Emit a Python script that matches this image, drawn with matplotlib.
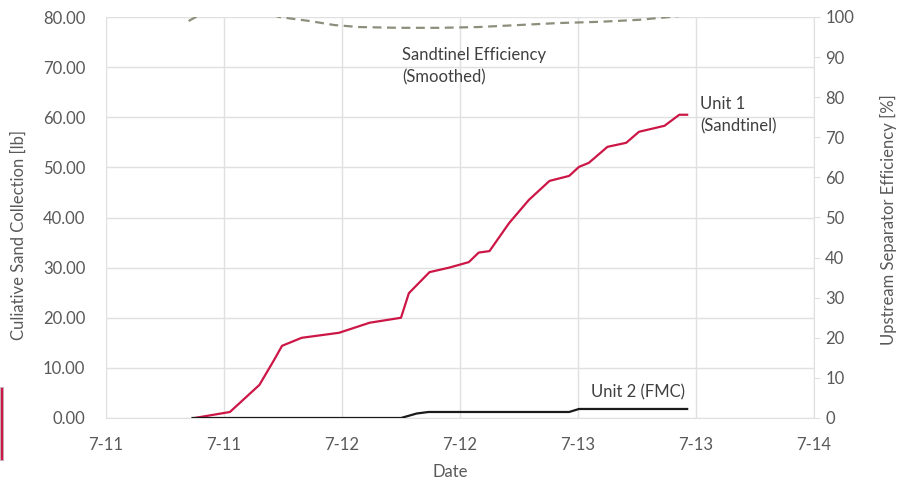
import matplotlib
matplotlib.use("Agg")
import matplotlib.pyplot as plt
from matplotlib.patches import Rectangle

plt.rcParams["font.family"] = ["Lato", "DejaVu Sans"]

# hours since 7-11 00:00
unit1_hours = [9.0, 12.6, 15.6, 17.1, 17.9, 19.9, 23.7, 26.8, 30.0, 30.8, 32.9, 34.9,
               36.9, 37.9, 39.0, 41.0, 43.0, 45.1, 47.1, 48.1, 49.1, 51.0, 52.9, 54.2,
               56.8, 58.3, 59.1]
unit1_sand = [0.0, 1.2, 6.6, 11.6, 14.4, 16.0, 17.0, 19.0, 20.0, 24.9, 29.1, 30.0,
              31.1, 33.0, 33.3, 38.9, 43.5, 47.3, 48.3, 50.1, 50.9, 54.1, 54.9, 57.1,
              58.3, 60.5, 60.5]

unit2_hours = [8.8, 30.0, 31.6, 32.8, 47.1, 48.1, 59.1]
unit2_sand = [0.0, 0.0, 0.9, 1.2, 1.2, 1.8, 1.8]

eff_hours = [8.4, 9.5, 12.5, 15.6, 17.6, 20.7, 23.2, 25.7, 29.8, 33.9, 37.9, 42.0,
             46.1, 50.2, 54.2, 57.3, 59.3]
eff_pct = [99.0, 100.5, 102.0, 101.5, 100.0, 99.0, 98.0, 97.5, 97.3, 97.3, 97.5, 98.0,
           98.5, 98.8, 99.3, 100.0, 100.5]

x_ticks = [0, 12, 24, 36, 48, 60, 72]
x_labels = ["7-11", "7-11", "7-12", "7-12", "7-13", "7-13", "7-14"]

grid_c = "#E0E0E0"
text_c = "#595959"
fs = 12

fig = plt.figure(figsize=(9.01, 4.84), dpi=100)
ax = fig.add_axes([106 / 901, 1 - 418 / 484, 708 / 901, 401 / 484])
ax2 = ax.twinx()

ax.plot(unit1_hours, unit1_sand, color="#CC1646", lw=1.6, zorder=3)
ax.plot(unit2_hours, unit2_sand, color="#1A1A1A", lw=1.6, zorder=3)
ax2.plot(eff_hours, eff_pct, color="#8E8E7C", lw=1.6, dashes=(4, 2.5))

ax.set_xlim(0, 72)
ax.set_ylim(0, 80)
ax2.set_ylim(0, 100)
ax.set_xticks(x_ticks)
ax.set_xticklabels(x_labels)
ax.set_yticks(range(0, 81, 10))
ax.set_yticklabels([f"{v:.2f}" for v in range(0, 81, 10)])
ax2.set_yticks(range(0, 101, 10))

ax.grid(True, color=grid_c, lw=1)
ax.set_axisbelow(True)
for a in (ax, ax2):
    for s in a.spines.values():
        s.set_visible(False)
ax.spines["bottom"].set_visible(True)
ax.spines["bottom"].set_color(grid_c)
ax2.spines["right"].set_visible(True)
ax2.spines["right"].set_color(grid_c)

ax.tick_params(axis="both", length=0, labelsize=fs, labelcolor=text_c)
ax.tick_params(axis="y", pad=15)
ax.tick_params(axis="x", pad=14)
ax2.tick_params(axis="y", length=4, color=grid_c, labelsize=fs, labelcolor=text_c, pad=4)

ax.set_ylabel("Culiative Sand Collection [lb]", fontsize=fs, color=text_c)
ax.yaxis.set_label_coords(-0.112, 0.456)
ax2.set_ylabel("Upstream Separator Efficiency [%]", fontsize=fs, color=text_c)
ax2.yaxis.set_label_coords(1.093, 0.494)
ax.set_xlabel("Date", fontsize=fs, color=text_c)
ax.xaxis.set_label_coords(0.486, -0.115)

ax.text(30.1, 70.2, "Sandtinel Efficiency\n(Smoothed)", fontsize=fs, color="#404040",
        va="center", ha="left", linespacing=1.5)
ax.text(60.4, 60.4, "Unit 1\n(Sandtinel)", fontsize=fs, color="#404040",
        va="center", ha="left", linespacing=1.5)
ax.text(49.3, 5.2, "Unit 2 (FMC)", fontsize=fs, color="#404040", va="center", ha="left")

# red sliver at the left edge of the screenshot
fig.add_artist(Rectangle((0, 1 - 460 / 484), 3 / 901, 73 / 484, transform=fig.transFigure,
                         facecolor="#CC1646", edgecolor="#BBBBBB", lw=0.5))

fig.savefig("out.png", dpi=100)
plt.close(fig)
